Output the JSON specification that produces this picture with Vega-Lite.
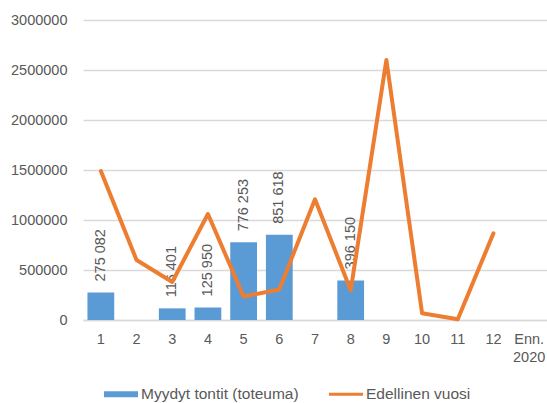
{
  "$schema": "https://vega.github.io/schema/vega-lite/v6.json",
  "width": 464,
  "height": 300,
  "autosize": {"type": "none"},
  "padding": {"left": 83, "top": 20, "right": 0, "bottom": 83},
  "background": "#ffffff",
  "config": {
    "font": "Liberation Sans",
    "view": {"stroke": null},
    "locale": {"number": {"decimal": ",", "thousands": " ", "grouping": [3], "currency": ["", " €"]}}
  },
  "data": {
    "values": [
      {"kk": "1", "toteuma": 275082, "edellinen": 1490000},
      {"kk": "2", "toteuma": null, "edellinen": 600000},
      {"kk": "3", "toteuma": 116401, "edellinen": 380000},
      {"kk": "4", "toteuma": 125950, "edellinen": 1060000},
      {"kk": "5", "toteuma": 776253, "edellinen": 235000},
      {"kk": "6", "toteuma": 851618, "edellinen": 305000},
      {"kk": "7", "toteuma": null, "edellinen": 1207000},
      {"kk": "8", "toteuma": 396150, "edellinen": 297000},
      {"kk": "9", "toteuma": null, "edellinen": 2600000},
      {"kk": "10", "toteuma": null, "edellinen": 67000},
      {"kk": "11", "toteuma": null, "edellinen": 8000},
      {"kk": "12", "toteuma": null, "edellinen": 867000},
      {"kk": "Enn. 2020", "toteuma": null, "edellinen": null}
    ]
  },
  "encoding": {
    "x": {
      "field": "kk",
      "type": "ordinal",
      "sort": null,
      "scale": {"domain": ["1", "2", "3", "4", "5", "6", "7", "8", "9", "10", "11", "12", "Enn. 2020"], "paddingInner": 0.25, "paddingOuter": 0.125},
      "axis": {
        "title": null,
        "labelAngle": 0,
        "labelColor": "#595959",
        "labelFontSize": 14.5,
        "labelPadding": 12,
        "labelExpr": "datum.value == 'Enn. 2020' ? ['Enn.', '2020'] : datum.value",
        "labelLineHeight": 18,
        "ticks": false,
        "domainColor": "#D9D9D9",
        "domainWidth": 1.3
      }
    }
  },
  "layer": [
    {
      "mark": {"type": "bar", "color": "#5B9BD5"},
      "encoding": {
        "y": {
          "field": "toteuma",
          "type": "quantitative",
          "scale": {"domain": [0, 3000000]},
          "axis": {
            "title": null,
            "values": [0, 500000, 1000000, 1500000, 2000000, 2500000, 3000000],
            "format": "d",
            "labelColor": "#595959",
            "labelFontSize": 14.5,
            "labelPadding": 16,
            "ticks": false,
            "domain": false,
            "gridColor": "#D9D9D9",
            "gridWidth": 1.3
          }
        },
        "color": {
          "datum": "Myydyt tontit (toteuma)",
          "type": "nominal",
          "scale": {"domain": ["Myydyt tontit (toteuma)", "Edellinen vuosi"], "range": ["#5B9BD5", "#ED7D31"]},
          "legend": {
            "title": null,
            "orient": "none",
            "legendX": 21,
            "legendY": 357,
            "direction": "horizontal",
            "labelColor": "#595959",
            "labelFontSize": 15.5,
            "labelLimit": 400,
            "labelOffset": 3,
            "columnPadding": 30,
            "symbolType": "M-1,-0.18H1V0.18H-1Z",
            "symbolSize": 1156,
            "symbolStrokeWidth": 0,
            "encode": {
              "symbols": {
                "update": {
                  "shape": {"signal": "datum.value === 'Edellinen vuosi' ? 'M-1,-0.09H1V0.09H-1Z' : 'M-1,-0.18H1V0.18H-1Z'"},
                  "fill": {"signal": "datum.value === 'Edellinen vuosi' ? '#ED7D31' : '#5B9BD5'"},
                  "strokeWidth": {"value": 0}
                }
              }
            }
          }
        }
      }
    },
    {
      "mark": {"type": "text", "angle": 270, "align": "left", "baseline": "middle", "dx": 11, "color": "#595959", "fontSize": 14.5},
      "transform": [{"filter": "datum.toteuma != null"}],
      "encoding": {
        "y": {"field": "toteuma", "type": "quantitative"},
        "text": {"field": "toteuma", "type": "quantitative", "format": ",d"}
      }
    },
    {
      "mark": {"type": "line", "color": "#ED7D31", "strokeWidth": 4, "strokeJoin": "round", "strokeCap": "round"},
      "transform": [{"filter": "datum.edellinen != null"}],
      "encoding": {
        "y": {"field": "edellinen", "type": "quantitative"},
        "color": {"datum": "Edellinen vuosi", "type": "nominal"}
      }
    }
  ]
}
